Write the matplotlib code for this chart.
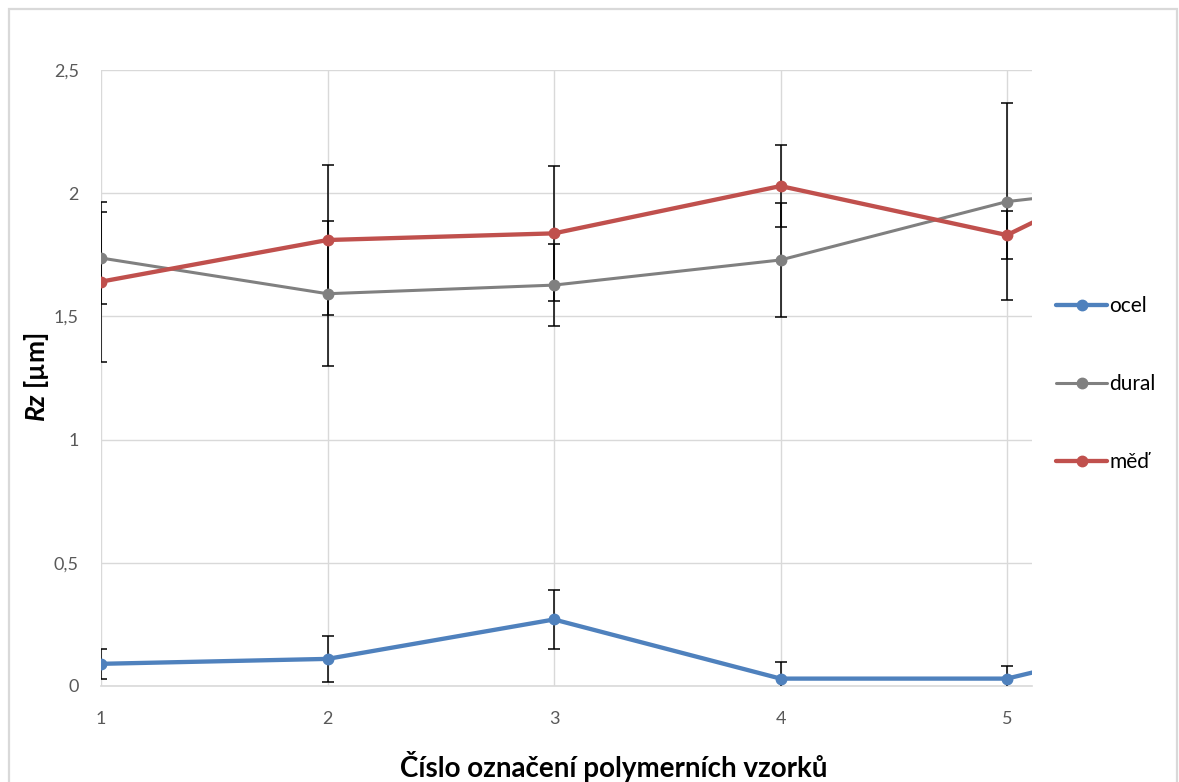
import matplotlib
matplotlib.use("Agg")
import matplotlib.pyplot as plt
from matplotlib.patches import Rectangle

# Sample numbers (6th sample lies just past the visible range)
samples = [1, 2, 3, 4, 5, 6]
x_ticks = [1, 2, 3, 4, 5]

ocel = [0.09, 0.11, 0.27, 0.03, 0.03, 0.25]
ocel_err = [0.062, 0.094, 0.12, 0.068, 0.051, 0.06]

dural = [1.737, 1.592, 1.627, 1.729, 1.966, 2.07]
dural_err = [0.186, 0.295, 0.166, 0.23, 0.40, 0.2]

med = [1.641, 1.810, 1.837, 2.029, 1.830, 2.28]
med_err = [0.325, 0.305, 0.273, 0.167, 0.098, 0.2]

series_names = ["ocel", "dural", "měď"]
series_colors = ["#4f81bd", "#808080", "#c0504d"]

y_ticks = [0, 0.5, 1, 1.5, 2, 2.5]
y_tick_labels = ["0", "0,5", "1", "1,5", "2", "2,5"]

plt.rcParams["font.family"] = ["Lato", "DejaVu Sans"]
plt.rcParams["mathtext.fontset"] = "custom"
plt.rcParams["mathtext.it"] = "Lato:italic:bold"
plt.rcParams["mathtext.rm"] = "Lato:bold"

W, H = 1179, 782
fig = plt.figure(figsize=(W / 100, H / 100), dpi=100)
ax = fig.add_axes([101 / W, (H - 686) / H, 931 / W, 616 / H])

grid_c = "#d9d9d9"
data = [(ocel, ocel_err), (dural, dural_err), (med, med_err)]
widths = [3.1, 2.2, 3.1]
for (vals, errs), name, col, lw in zip(data, series_names, series_colors, widths):
    ax.errorbar(samples, vals, yerr=errs, fmt="none", ecolor="black",
                elinewidth=1.1, capsize=4.3, capthick=1.1, zorder=3)
    ax.plot(samples, vals, color=col, lw=lw, marker="o", markersize=7.5,
            label=name, zorder=4, solid_capstyle="round")

ax.set_xlim(1, 1 + 931 / 226.5)
ax.set_ylim(0, 2.5)
ax.set_xticks(x_ticks)
ax.set_xticklabels([str(t) for t in x_ticks])
ax.set_yticks(y_ticks)
ax.set_yticklabels(y_tick_labels)
ax.tick_params(axis="both", length=0, labelsize=13, labelcolor="#595959")
ax.tick_params(axis="x", pad=18)
ax.tick_params(axis="y", pad=16)

ax.grid(True, color=grid_c, lw=1.0, zorder=0)
ax.set_axisbelow(True)
for s in ["top", "right", "left"]:
    ax.spines[s].set_visible(False)
ax.spines["bottom"].set_color(grid_c)
ax.spines["bottom"].set_linewidth(1.2)

ax.set_xlabel("Číslo označení polymerních vzorků", fontsize=20,
              fontweight="bold", color="black")
ax.xaxis.set_label_coords((614 - 101) / 931, -(751 - 686) / 616)
ax.set_ylabel(r"$Rz$ [µm]", fontsize=19, fontweight="bold", color="black")
ax.yaxis.set_label_coords(-50 / 931, (686 - 377) / 616)

ax.legend(loc="center left", bbox_to_anchor=(1.017, 0.49),
          frameon=False, fontsize=15, labelspacing=2.78,
          handlelength=2.45, handletextpad=0.1, borderaxespad=0)

fig.patches.append(Rectangle((8.5 / W, -0.05), (1177 - 8.5) / W, 1.05 - 9 / H,
                             transform=fig.transFigure, fill=False,
                             edgecolor=grid_c, lw=1.6))

fig.savefig("out.png", dpi=100)
